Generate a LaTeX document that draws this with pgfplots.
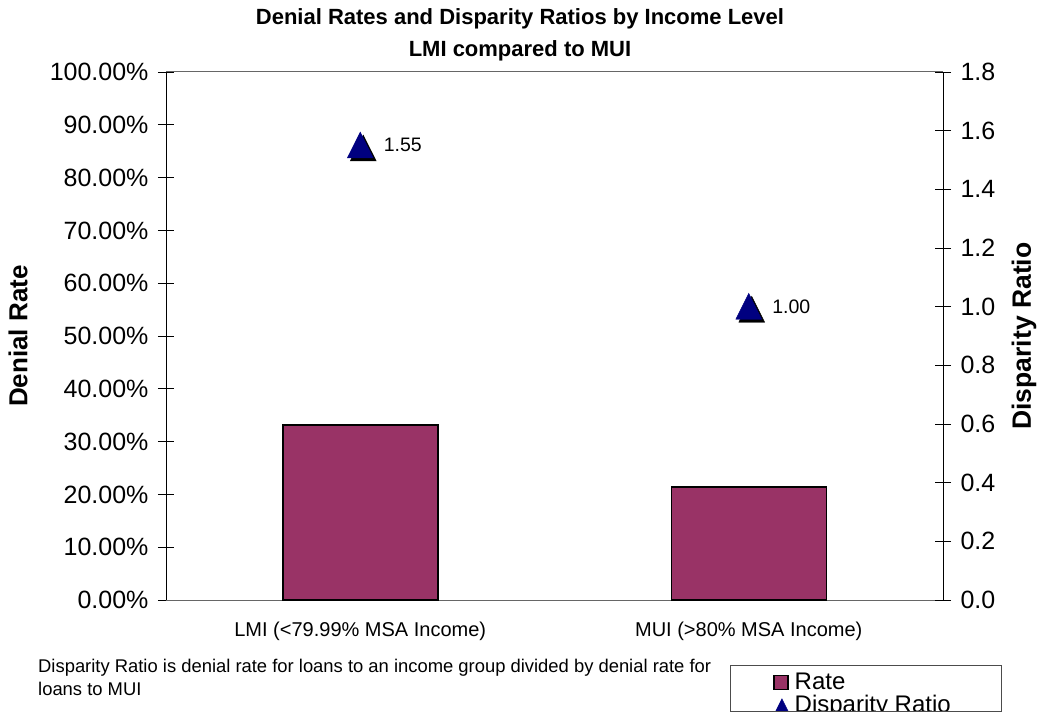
\documentclass[border=0pt]{standalone}
\usepackage{pgfplots}
\pgfplotsset{compat=1.18}
\usepackage{fontspec}
\setmainfont{Liberation Sans}
\definecolor{plum}{RGB}{153,51,102}
\definecolor{navyb}{RGB}{0,0,128}
\begin{document}
\begin{tikzpicture}[x=1pt,y=1pt]
\path[use as bounding box] (0,0) rectangle (1041,715);
\clip (0,3.4) rectangle (1041,715);
\begin{axis}[
  at={(166pt,115pt)}, anchor=south west,
  scale only axis, width=777pt, height=528pt,
  xmin=0, xmax=2, ymin=0, ymax=100,
  axis y line*=left, axis x line*=box,
  x axis line style={gray!80!black, line width=1pt},
  y axis line style={black, line width=0.8pt},
  xtick={0.5,1.5}, xticklabels={LMI (<79.99\% MSA Income), MUI (>80\% MSA Income)},
  extra x ticks={1}, extra x tick labels={},
  extra x tick style={major tick length=14pt, tick align=center, tick style={black,line width=0.6pt}},
  xtick style={draw=none},
  xticklabel style={font=\fontsize{20}{22}\selectfont, yshift=-2pt},
  ytick={0,10,...,100},
  yticklabel={\pgfmathprintnumber[fixed,fixed zerofill,precision=2]{\tick}\%},
  yticklabel style={font=\fontsize{25}{28}\selectfont, xshift=-6pt},
  /pgf/number format/assume math mode=true,
  ytick style={black, line width=0.6pt},
  major tick length=16pt, tick align=center,
  ylabel={\bfseries Denial Rate},
  every axis y label/.style={at={(-148pt,0.5)}, rotate=90, anchor=center, font=\fontsize{26}{28}\selectfont},
  ybar, bar width=155pt,
]
\addplot[fill=plum, draw=black, line width=1.5pt] coordinates {(0.5,33.1) (1.5,21.4)};
\end{axis}
\begin{axis}[
  at={(166pt,115pt)}, anchor=south west,
  scale only axis, width=777pt, height=528pt,
  xmin=0, xmax=2, ymin=0, ymax=1.8,
  axis y line*=right, axis x line=none,
  y axis line style={black, line width=0.8pt},
  ytick={0,0.2,...,1.8},
  yticklabel={\pgfmathprintnumber[fixed,fixed zerofill,precision=1]{\tick}},
  yticklabel style={font=\fontsize{25}{28}\selectfont, xshift=6pt},
  /pgf/number format/assume math mode=true,
  ytick style={black, line width=0.6pt},
  major tick length=16pt, tick align=center,
  ylabel={\bfseries Disparity Ratio},
  every axis y label/.style={at={(858pt,0.5)}, rotate=90, anchor=center, font=\fontsize{26.5}{28}\selectfont},
  legend style={at={(607pt,-72pt)}, anchor=north west, draw=none, fill=none,
     font=\fontsize{24}{24}\selectfont, inner sep=0pt,
     nodes={text height=16pt, text depth=5pt, inner sep=1pt},
     legend cell align=left, row sep=0pt},
  legend image code/.code={\draw[#1] (0pt,-6pt) rectangle (14pt,8pt); \path (19pt,0pt);},
  clip=false,
]
\addlegendimage{fill=plum, draw=black, line width=1.5pt}
\addlegendentry{Rate}
\addplot[only marks, mark=triangle*, mark size=15pt,
  mark options={fill=black, draw=black, xshift=3pt, yshift=-7pt, yscale=1.15},
  forget plot] coordinates {(0.5,1.55) (1.5,1.00)};
\addplot[only marks, mark=triangle*, mark size=15pt,
  mark options={fill=navyb, draw=navyb, yshift=-4pt, yscale=1.15},
  nodes near coords={\pgfmathprintnumber[fixed,fixed zerofill,precision=2]{\pgfplotspointmeta}},
  point meta=explicit,
  every node near coord/.append style={anchor=west, xshift=20pt, yshift=4pt, font=\fontsize{19.5}{20}\selectfont},
  legend image code/.code={\fill[navyb] (0pt,-8pt) -- (16pt,-8pt) -- (8pt,8pt) -- cycle; \path (19pt,0pt);},
] coordinates {(0.5,1.55) [1.55] (1.5,1.00) [1.00]};
\addlegendentry{Disparity Ratio}
\end{axis}
\draw[black!70, line width=1pt] (730,4) rectangle (1001,50);
\node[font=\fontsize{22}{32}\selectfont\bfseries, align=center, anchor=center] at (520,680) {Denial Rates and Disparity Ratios by Income Level\\LMI compared to MUI};
\node[font=\fontsize{18.4}{23}\selectfont, align=left, anchor=north west, inner sep=0pt] at (38,56) {Disparity Ratio is denial rate for loans to an income group divided by denial rate for\\loans to MUI};
\end{tikzpicture}
\end{document}
